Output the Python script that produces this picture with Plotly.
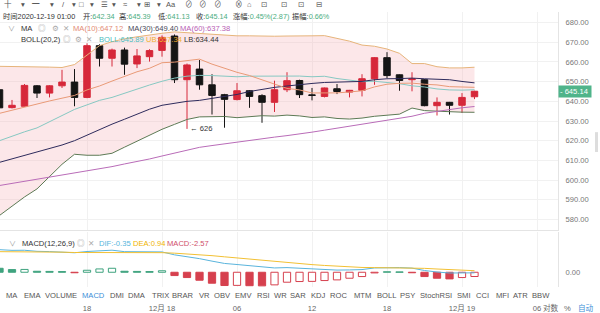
import plotly.graph_objects as go

# ---------------- data ----------------
times = [
    "2020-12-17 11:00", "2020-12-17 12:00", "2020-12-17 13:00", "2020-12-17 14:00",
    "2020-12-17 15:00", "2020-12-17 16:00", "2020-12-17 17:00", "2020-12-17 18:00",
    "2020-12-17 19:00", "2020-12-17 20:00", "2020-12-17 21:00", "2020-12-17 22:00",
    "2020-12-17 23:00", "2020-12-18 00:00", "2020-12-18 01:00", "2020-12-18 02:00",
    "2020-12-18 03:00", "2020-12-18 04:00", "2020-12-18 05:00", "2020-12-18 06:00",
    "2020-12-18 07:00", "2020-12-18 08:00", "2020-12-18 09:00", "2020-12-18 10:00",
    "2020-12-18 11:00", "2020-12-18 12:00", "2020-12-18 13:00", "2020-12-18 14:00",
    "2020-12-18 15:00", "2020-12-18 16:00", "2020-12-18 17:00", "2020-12-18 18:00",
    "2020-12-18 19:00", "2020-12-18 20:00", "2020-12-18 21:00", "2020-12-18 22:00",
    "2020-12-18 23:00", "2020-12-19 00:00", "2020-12-19 01:00",
]
opens = [645.9, 636.8, 637.5, 647.9, 644.2, 647.9, 649.8, 642.0, 668.3, 661.9,
         666.1, 659.0, 662.7, 665.9, 673.2, 651.0, 656.4, 648.4, 643.4, 640.9,
         645.4, 642.9, 639.5, 645.9, 650.6, 643.3, 642.5, 646.4, 644.7, 645.6,
         651.5, 662.2, 653.5, 651.0, 651.0, 637.8, 639.5, 638.0, 642.34]
highs = [646.6, 640.7, 648.8, 648.3, 648.2, 656.0, 656.4, 669.5, 669.0, 666.8,
         667.3, 666.6, 666.5, 673.5, 674.0, 659.2, 661.0, 653.8, 643.8, 649.3,
         645.7, 643.6, 650.5, 654.8, 651.0, 646.8, 647.0, 648.8, 645.8, 653.8,
         662.5, 665.0, 653.7, 654.8, 651.3, 642.0, 639.7, 644.2, 645.39]
lows = [636.2, 636.4, 637.2, 641.7, 642.0, 646.8, 637.5, 641.6, 657.7, 657.7,
        653.5, 656.9, 660.2, 662.7, 649.3, 626.0, 645.9, 633.3, 626.6, 640.5,
        636.7, 629.1, 634.6, 644.7, 641.7, 640.5, 642.0, 643.7, 642.0, 642.5,
        648.4, 651.8, 645.4, 645.1, 637.5, 632.8, 633.3, 634.1, 641.13]
closes = [636.7, 638.0, 648.1, 644.2, 647.9, 649.8, 642.0, 668.3, 661.9, 666.1,
          658.9, 663.1, 665.8, 672.5, 651.0, 658.5, 648.4, 643.0, 641.0, 645.4,
          642.5, 639.5, 645.9, 650.5, 643.4, 643.0, 646.8, 645.0, 645.6, 651.5,
          662.2, 653.1, 650.6, 651.4, 637.8, 639.5, 638.0, 642.0, 645.14]

ma10 = [633.9, 635.5, 637.2, 638.8, 640.2, 641.6, 643.0, 645.8, 647.8, 650.3,
        652.52, 655.03, 656.8, 659.63, 659.94, 660.81, 661.45, 658.92, 656.83, 654.76,
        653.12, 650.76, 648.77, 646.57, 645.81, 644.26, 644.1, 644.3, 644.76, 645.37,
        647.34, 648.7, 649.17, 649.26, 648.7, 648.35, 647.47, 647.17, 647.12]
ma30 = [609.0, 610.7, 612.5, 614.2, 615.8, 617.8, 620.0, 622.8, 625.9, 628.4,
        630.9, 633.4, 636.0, 638.0, 639.0, 640.0, 640.5, 641.5, 642.5, 643.5,
        645.0, 646.1, 647.1, 647.8, 648.6, 649.1, 649.6, 649.8, 650.1, 650.13,
        650.98, 651.48, 651.56, 651.8, 651.47, 651.12, 650.99, 650.11, 649.4]
ma60 = [597.22, 598.28, 599.34, 600.4, 601.46, 602.53, 603.54, 604.65, 605.66, 606.82,
        608.18, 609.39, 610.71, 612.22, 613.74, 615.25, 616.62, 617.53, 618.43, 619.29,
        620.3, 621.06, 621.82, 622.58, 623.33, 624.34, 625.35, 626.36, 627.12, 628.38,
        629.39, 630.4, 631.41, 632.42, 633.94, 634.95, 635.96, 636.72, 637.38]
boll_ub = [657.8, 657.8, 657.7, 657.5, 657.4, 657.2, 658.7, 663.7, 668.3, 670.3,
           671.8, 672.8, 673.8, 674.6, 675.3, 674.9, 674.3, 673.8, 673.6, 673.3,
           673.3, 673.1, 673.1, 673.2, 673.1, 673.3, 673.4, 671.9, 670.6, 668.6,
           668.0, 666.6, 664.4, 659.2, 659.2, 657.6, 657.0, 657.0, 657.34]
boll_mid = [620.0, 622.3, 624.5, 626.5, 629.5, 632.6, 635.9, 638.2, 640.5, 642.0,
            644.2, 646.3, 648.3, 650.2, 651.8, 652.8, 653.2, 653.1, 652.9, 652.5,
            652.8, 652.9, 652.8, 653.1, 652.85, 652.5, 652.75, 651.6, 650.8, 650.0,
            650.2, 649.7, 648.95, 647.9, 647.3, 646.3, 645.8, 645.7, 645.89]
boll_lb = [582.0, 586.9, 591.4, 595.5, 601.5, 608.0, 613.1, 612.6, 612.6, 613.6,
           616.7, 619.7, 622.7, 625.8, 628.3, 630.8, 632.1, 632.3, 632.3, 631.7,
           632.3, 632.7, 632.5, 633.0, 632.6, 631.8, 632.1, 631.3, 631.0, 631.5,
           632.4, 632.8, 633.5, 636.6, 635.3, 635.0, 634.6, 634.5, 634.44]

macd_hist = [2.4, 1.6, 1.7, 0.6, 0.5, 0.4, -0.3, 1.2, 2.0, 2.4,
             0.6, 0.5, 0.4, 0.9, -2.0, -3.2, -4.8, -6.6, -8.0, -7.9,
             -8.1, -8.2, -7.6, -6.0, -5.6, -5.5, -5.0, -4.6, -3.6, -2.6,
             -0.4, 0.3, 0.2, -0.3, -2.6, -3.6, -4.0, -3.2, -2.57]
dif = [13.6, 13.2, 13.25, 12.6, 12.45, 12.3, 11.75, 12.5, 13.0, 13.3,
       12.4, 12.25, 12.1, 12.25, 10.5, 9.5, 8.2, 6.7, 5.3, 4.65,
       3.85, 3.0, 2.6, 2.8, 2.4, 1.85, 1.6, 1.3, 1.4, 1.6,
       2.6, 2.9, 2.8, 2.5, 1.05, 0.15, -0.45, -0.4, -0.35]
dea = [12.4, 12.4, 12.4, 12.3, 12.2, 12.1, 11.9, 11.9, 12.0, 12.1,
       12.1, 12.0, 11.9, 11.8, 11.5, 11.1, 10.6, 10.0, 9.3, 8.6,
       7.9, 7.1, 6.4, 5.8, 5.2, 4.6, 4.1, 3.6, 3.2, 2.9,
       2.8, 2.75, 2.7, 2.65, 2.35, 1.95, 1.55, 1.2, 0.94]

price_ticks = [580, 590, 600, 610, 620, 630, 640, 650, 660, 670, 680]
time_ticks = ["2020-12-17 18:00", "2020-12-18 00:00", "2020-12-18 06:00", "2020-12-18 12:00",
              "2020-12-18 18:00", "2020-12-19 00:00", "2020-12-19 06:00"]
time_labels = ["18", "12月 18", "06", "12", "18", "12月 19", "06"]

tab_names = ["MA", "EMA", "VOLUME", "MACD", "DMI", "DMA", "TRIX", "BRAR", "VR", "OBV",
             "EMV", "RSI", "WR", "SAR", "KDJ", "ROC", "MTM", "BOLL", "PSY", "StochRSI",
             "SMI", "CCI", "MFI", "ATR", "BBW"]
tab_x = [12, 32, 61, 93, 117, 137, 160, 183, 204, 222, 243, 263, 280, 298, 318, 339,
         362, 386, 407, 436, 464, 482, 502, 520, 541]

# ---------------- styling ----------------
W, H = 600, 313
FONT = "Liberation Sans, Noto Sans CJK SC, DejaVu Sans, sans-serif"
RED = "#d6283a"
BLACK = "#151515"
GREEN_TXT = "#4cae82"
GRID = "#f1f1f1"
AXLINE = "#e4e4e4"
X_RANGE = ["2020-12-17 11:02:24", "2020-12-19 07:40:48"]
Y_MAIN = [574.85, 685.45]
Y_MACD = [-8.98, 24.55]


def px(x):
    return x / W


def py(y):
    return 1 - y / H


fig = go.Figure()

# Bollinger band fill on the base subplot (below the candles)
fig.add_trace(go.Scatter(x=times, y=boll_lb, mode="lines", line=dict(width=0),
                         hoverinfo="skip", showlegend=False, xaxis="x", yaxis="y"))
fig.add_trace(go.Scatter(x=times, y=boll_ub, mode="lines", line=dict(width=0),
                         fill="tonexty", fillcolor="rgba(245,170,175,0.28)",
                         hoverinfo="skip", showlegend=False, xaxis="x", yaxis="y"))

# candles on an overlaying axis
fig.add_trace(go.Candlestick(
    x=times, open=opens, high=highs, low=lows, close=closes,
    increasing=dict(line=dict(color=RED, width=1), fillcolor=RED),
    decreasing=dict(line=dict(color=BLACK, width=1), fillcolor=BLACK),
    whiskerwidth=0, showlegend=False, xaxis="x", yaxis="y3"))

line_specs = [
    (boll_ub, "#e6b47a"),
    (boll_lb, "#5d7a55"),
    (boll_mid, "#86c8c2"),
    (ma60, "#b96cb8"),
    (ma30, "#2e2b5c"),
    (ma10, "#e99a77"),
]
for vals, col in line_specs:
    fig.add_trace(go.Scatter(x=times, y=vals, mode="lines", line=dict(color=col, width=1),
                             hoverinfo="skip", showlegend=False, xaxis="x", yaxis="y3"))

# MACD histogram: hollow when the value rose versus the previous bar
bar_fill, bar_line = [], []
for i, v in enumerate(macd_hist):
    col = "#3fa37f" if v >= 0 else "#d6404e"
    rising = i > 0 and v > macd_hist[i - 1]
    bar_line.append(col)
    bar_fill.append("#ffffff" if rising else col)
fig.add_trace(go.Bar(x=times, y=macd_hist, marker=dict(color=bar_fill, line=dict(color=bar_line, width=1)),
                     showlegend=False, hoverinfo="skip", xaxis="x2", yaxis="y2"))
fig.add_trace(go.Scatter(x=times, y=dif, mode="lines", line=dict(color="#5ab4dc", width=1),
                         showlegend=False, hoverinfo="skip", xaxis="x2", yaxis="y2"))
fig.add_trace(go.Scatter(x=times, y=dea, mode="lines", line=dict(color="#f2c033", width=1),
                         showlegend=False, hoverinfo="skip", xaxis="x2", yaxis="y2"))

# ---------------- annotations ----------------
anns = []


def txt(x, y, text, color="#333333", size=7.6, xanchor="left", family=FONT):
    anns.append(dict(x=px(x), y=py(y), xref="paper", yref="paper", text=text, showarrow=False,
                     xanchor=xanchor, yanchor="middle", font=dict(size=size, color=color, family=family),
                     borderpad=0))


def g(s):
    return '<span style="color:%s">%s</span>' % (GREEN_TXT, s)


# toolbar (top strip)
for x, ch in [(3, "十"), (20, "▾"), (31, "━"), (49, "▾"), (61, "/"), (71, "▾"), (78, "□"), (89, "▾"),
              (100, "☰"), (111, "▾"), (122, "≈"), (136, "▾"), (143, "⊞"), (156, "▾"), (165, "Aa"),
              (184, "⊘"), (198, "⊘"), (213, "⊘"), (234, "⊗"), (246, "⌂"), (260, "⊡"), (280, "⊡"),
              (297, "⊡"), (315, "⊟")]:
    txt(x, 4.5, ch, color="#555555", size=7.5)

# info row
IS = 7.3
txt(2, 16.5, "时间2020-12-19 01:00", size=IS)
txt(82, 16.5, "开:" + g("642.34"), size=IS)
txt(118, 16.5, "高:" + g("645.39"), size=IS)
txt(157, 16.5, "低:" + g("641.13"), size=IS)
txt(195, 16.5, "收:" + g("645.14"), size=IS)
txt(232, 16.5, "涨幅:" + g("0.45%(2.87)"), size=IS)
txt(291, 16.5, "振幅:" + g("0.66%"), size=IS)

# MA row
txt(7, 28.5, "∨", color="#999999", size=7)
txt(20, 28.5, "MA")
txt(37, 28.5, "◎", color="#aaaaaa")
txt(51, 28.5, "⚙", color="#aaaaaa")
txt(62, 28.5, "✕", color="#aaaaaa")
txt(72, 28.5, "MA(10):647.12", color="#e38b74")
txt(127, 28.5, "MA(30):649.40", color="#4a4a5a")
txt(179, 28.5, "MA(60):637.38", color="#b860b4")

# BOLL row
txt(20, 40, "BOLL(20,2)")
txt(62, 40, "◎", color="#aaaaaa")
txt(74, 40, "⚙", color="#aaaaaa")
txt(85, 40, "✕", color="#aaaaaa")
txt(98, 40, "BOLL:645.89", color="#4dbdbe")
txt(145, 40, "UB:657.34", color="#f0b030")
txt(183, 40, "LB:634.44", color="#333333")

# MACD row
txt(8, 245, "∨", color="#999999", size=7)
txt(21, 245, "MACD(12,26,9)")
txt(76, 245, "◎", color="#aaaaaa")
txt(87, 245, "✕", color="#aaaaaa")
txt(98, 245, "DIF:-0.35", color="#55b6dc")
txt(132, 245, "DEA:0.94", color="#f0b400")
txt(166, 245, "MACD:-2.57", color="#d0506a")

# indicator tabs
for name, x in zip(tab_names, tab_x):
    txt(x, 297, name, color="#3d8fd8" if name == "MACD" else "#555555", size=7.6, xanchor="center")

# bottom right buttons
txt(551, 310, "对数", color="#666666", size=7.6, xanchor="center")
txt(567, 310, "%", color="#666666", size=7.6, xanchor="center")
txt(586, 310, "自动", color="#3d8fd8", size=7.6, xanchor="center")

# lowest low marker
i_low = lows.index(min(lows))
anns.append(dict(x=times[i_low], y=lows[i_low], xref="x", yref="y", text="← %d" % round(lows[i_low]),
                 showarrow=False, xanchor="left", yanchor="middle", xshift=1,
                 font=dict(size=7.6, color="#333333", family=FONT)))

# current price tag
anns.append(dict(x=0.93, y=closes[-1], xref="paper", yref="y", text="- %.2f " % closes[-1],
                 showarrow=False, xanchor="left", yanchor="middle", bgcolor="#4fb48a",
                 font=dict(size=7.6, color="#ffffff", family=FONT), borderpad=1))

shapes = [
    dict(type="rect", xref="paper", yref="paper", x0=px(595), x1=px(598), y0=py(153), y1=py(133),
         fillcolor="#dddddd", line=dict(width=0)),
]

axis_font = dict(size=7.6, color="#777777", family=FONT)

fig.update_layout(
    width=W, height=H, autosize=False,
    margin=dict(l=0, r=0, t=0, b=0, pad=0),
    paper_bgcolor="#ffffff", plot_bgcolor="#ffffff",
    showlegend=False, boxgap=0.3, boxgroupgap=0.26, bargap=0.42,
    xaxis=dict(domain=[0, 0.93], anchor="y", type="date", range=X_RANGE,
               tickvals=time_ticks, showticklabels=False, showgrid=True, gridcolor=GRID,
               zeroline=False, showline=True, linecolor=AXLINE, linewidth=1, ticks="",
               rangeslider=dict(visible=False), fixedrange=True),
    yaxis=dict(domain=[py(231), py(12)], anchor="x", range=Y_MAIN, side="right",
               tickvals=price_ticks, ticktext=["%.2f" % v for v in price_ticks],
               tickfont=axis_font, showgrid=True, gridcolor=GRID, zeroline=False,
               showline=True, linecolor=AXLINE, linewidth=1, ticks="", ticklabelstandoff=5,
               fixedrange=True),
    yaxis3=dict(overlaying="y", anchor="x", range=Y_MAIN, visible=False, fixedrange=True),
    xaxis2=dict(domain=[0, 0.93], anchor="y2", type="date", matches="x",
                tickvals=time_ticks, ticktext=time_labels, tickfont=dict(size=7.6, color="#666666", family=FONT),
                showgrid=True, gridcolor=GRID, zeroline=False, showline=False, ticks="",
                ticklabelstandoff=15, fixedrange=True),
    yaxis2=dict(domain=[py(289), py(233)], anchor="x2", range=Y_MACD, side="right",
                tickvals=[0], ticktext=["0.00"], tickfont=axis_font, showgrid=False,
                zeroline=False, showline=True, linecolor=AXLINE, linewidth=1, ticks="",
                ticklabelstandoff=5, fixedrange=True),
    annotations=anns,
    shapes=shapes,
)

fig.write_html("out.html")
